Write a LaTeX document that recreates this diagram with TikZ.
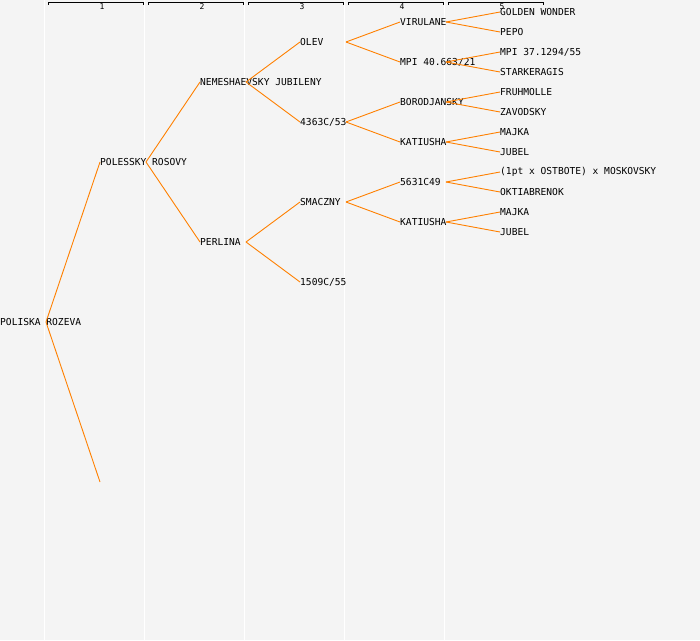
\documentclass[tikz,border=0pt]{standalone}
\usepackage{fontspec}
\setmonofont{DejaVu Sans Mono}
\usetikzlibrary{trees}
\definecolor{chartbg}{RGB}{244,244,244}
\definecolor{linkorange}{RGB}{255,128,0}
\tikzset{%
  member/.style  = {anchor=west, inner sep=0pt, font=\ttfamily\fontsize{9.6}{10}\selectfont},%
  blank/.style   = {inner sep=0pt, minimum size=0pt},%
  colline/.style = {draw=white, line width=1pt},%
  bracket/.style = {draw=black, line width=0.8pt},%
  gen/.style     = {inner sep=0pt, font=\ttfamily\fontsize{8}{8}\selectfont}%
}

\begin{document}
\begin{tikzpicture}[x=1pt, y=1pt, grow'=right, level distance=100pt,
    growth parent anchor=west,
    every child node/.style={member},
    edge from parent path={([xshift=46pt]\tikzparentnode.west) -- (\tikzchildnode.west)},
    edge from parent/.style={draw=linkorange, line width=0.9pt}]
  \tikzstyle{level 1}=[sibling distance=320pt]
  \tikzstyle{level 2}=[sibling distance=160pt]
  \tikzstyle{level 3}=[sibling distance=80pt]
  \tikzstyle{level 4}=[sibling distance=40pt]
  \tikzstyle{level 5}=[sibling distance=20pt]
  \fill[chartbg] (0,0) rectangle (700,-640);
  \useasboundingbox (0,0) rectangle (700,-640);
  % generation columns
  \foreach \c in {1,...,5}{
    \draw[colline] (\c*100-55.5,0) -- (\c*100-55.5,-640);
    \draw[bracket] (\c*100-52,-4.5) -- (\c*100-52,-2) -- (\c*100+43,-2) -- (\c*100+43,-4.5);
    \node[gen] (gen\c) at (\c*100+2,-6.5) {\c};
  }
  % pedigree
  \node[member] (rozeva) at (0,-322) {POLISKA ROZEVA}
  child{node (polessky) {POLESSKY ROSOVY}
    child{node (nemeshaevsky) {NEMESHAEVSKY JUBILENY}
      child{node (olev) {OLEV}
        child{node (virulane) {VIRULANE}
          child{node (golden) {GOLDEN WONDER}}
          child{node (pepo) {PEPO}}
        }
        child{node (mpi40) {MPI 40.663/21}
          child{node (mpi37) {MPI 37.1294/55}}
          child{node (starkeragis) {STARKERAGIS}}
        }
      }
      child{node (c4363) {4363C/53}
        child{node (borodjansky) {BORODJANSKY}
          child{node (fruhmolle) {FRUHMOLLE}}
          child{node (zavodsky) {ZAVODSKY}}
        }
        child{node (katiushaA) {KATIUSHA}
          child{node (majkaA) {MAJKA}}
          child{node (jubelA) {JUBEL}}
        }
      }
    }
    child{node (perlina) {PERLINA}
      child{node (smaczny) {SMACZNY}
        child{node (c5631) {5631C49}
          child{node (moskovsky) {(1pt x OSTBOTE) x MOSKOVSKY}}
          child{node (oktiabrenok) {OKTIABRENOK}}
        }
        child{node (katiushaB) {KATIUSHA}
          child{node (majkaB) {MAJKA}}
          child{node (jubelB) {JUBEL}}
        }
      }
      child{node (c1509) {1509C/55}}
    }
  }
  child{node[blank] (unknown) {}};
\end{tikzpicture}
\end{document}
